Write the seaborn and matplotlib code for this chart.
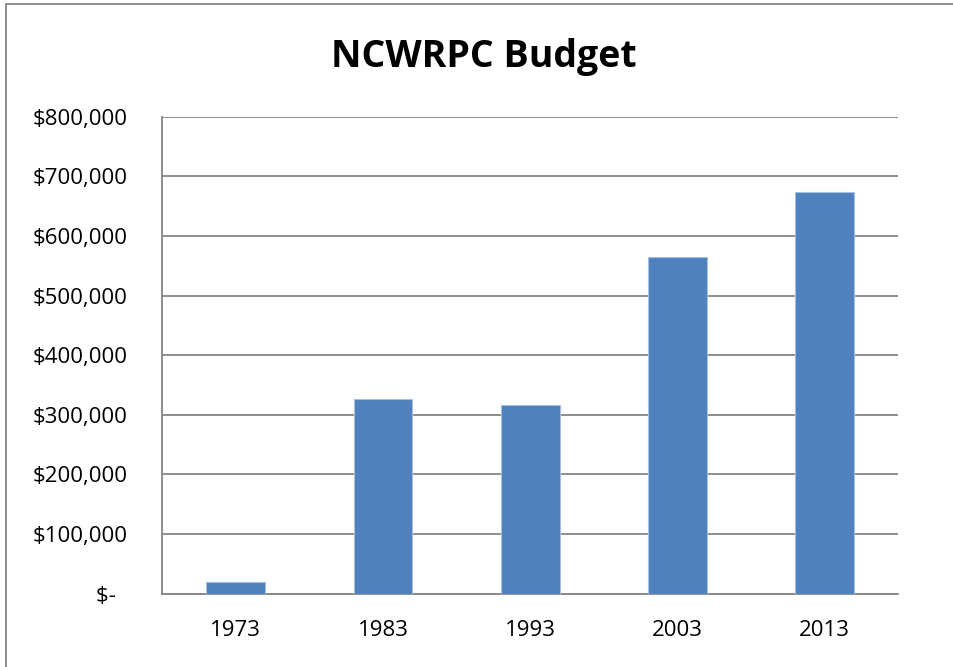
import pandas as pd
import numpy as np
import matplotlib
matplotlib.use("Agg")
import matplotlib.pyplot as plt
import seaborn as sns
from matplotlib.lines import Line2D

# données
years = ["1973", "1983", "1993", "2003", "2013"]
budget = [19000, 326000, 317000, 564000, 674000]
y_ticks = [0, 100000, 200000, 300000, 400000, 500000, 600000, 700000, 800000]
y_labels = ["$-  ", "$100,000", "$200,000", "$300,000", "$400,000",
            "$500,000", "$600,000", "$700,000", "$800,000"]

df = pd.DataFrame({"Year": years, "Budget": budget})

sns.set_style("white")
plt.rcParams["font.family"] = ["Open Sans", "DejaVu Sans"]
plt.rcParams["text.color"] = "black"
plt.rcParams["xtick.labelcolor"] = "black"
plt.rcParams["ytick.labelcolor"] = "black"

grid_col = "#868686"

fig = plt.figure(figsize=(9.54, 6.67), dpi=100)
ax = fig.add_axes([0.170, 0.110, 0.7716, 0.715])

sns.barplot(data=df, x="Year", y="Budget", color="#4F81BD", saturation=1,
            width=0.4, edgecolor="#A7BFDE", linewidth=0.8, ax=ax, zorder=3)

ax.set_ylim(0, 800000)
ax.set_xlim(-0.5, len(years) - 0.5)
ax.set_yticks(y_ticks)
ax.set_yticklabels(y_labels, fontsize=16)

# ticks aux limites des catégories, étiquettes au centre
ax.set_xticks(np.arange(-0.5, len(years), 1.0))
ax.set_xticklabels([])
ax.set_xticks(range(len(years)), minor=True)
ax.set_xticklabels(years, minor=True, fontsize=16)
ax.tick_params(axis="x", which="major", length=9, width=1.2, color=grid_col, direction="out")
ax.tick_params(axis="x", which="minor", length=0, pad=19)
ax.tick_params(axis="y", length=9, width=1.2, color=grid_col, direction="out", pad=16)

ax.grid(axis="y", color=grid_col, linewidth=1.3, zorder=0)
ax.grid(axis="x", visible=False)
ax.set_axisbelow(True)
ax.set_xlabel("")
ax.set_ylabel("")

for s in ["top", "right"]:
    ax.spines[s].set_visible(False)
for s in ["left", "bottom"]:
    ax.spines[s].set_color(grid_col)
    ax.spines[s].set_linewidth(1.3)

fig.text(0.507, 0.90, "NCWRPC Budget", ha="center", va="baseline",
         fontsize=27, fontweight="bold", color="black")

# cadre du graphique (coin haut gauche visible)
fig.add_artist(Line2D([6 / 954, 1.0], [1 - 4 / 667, 1 - 4 / 667],
                      transform=fig.transFigure, color=grid_col, linewidth=1.3))
fig.add_artist(Line2D([6 / 954, 6 / 954], [0.0, 1 - 4 / 667],
                      transform=fig.transFigure, color=grid_col, linewidth=1.3))

fig.savefig("out.png", dpi=100)
